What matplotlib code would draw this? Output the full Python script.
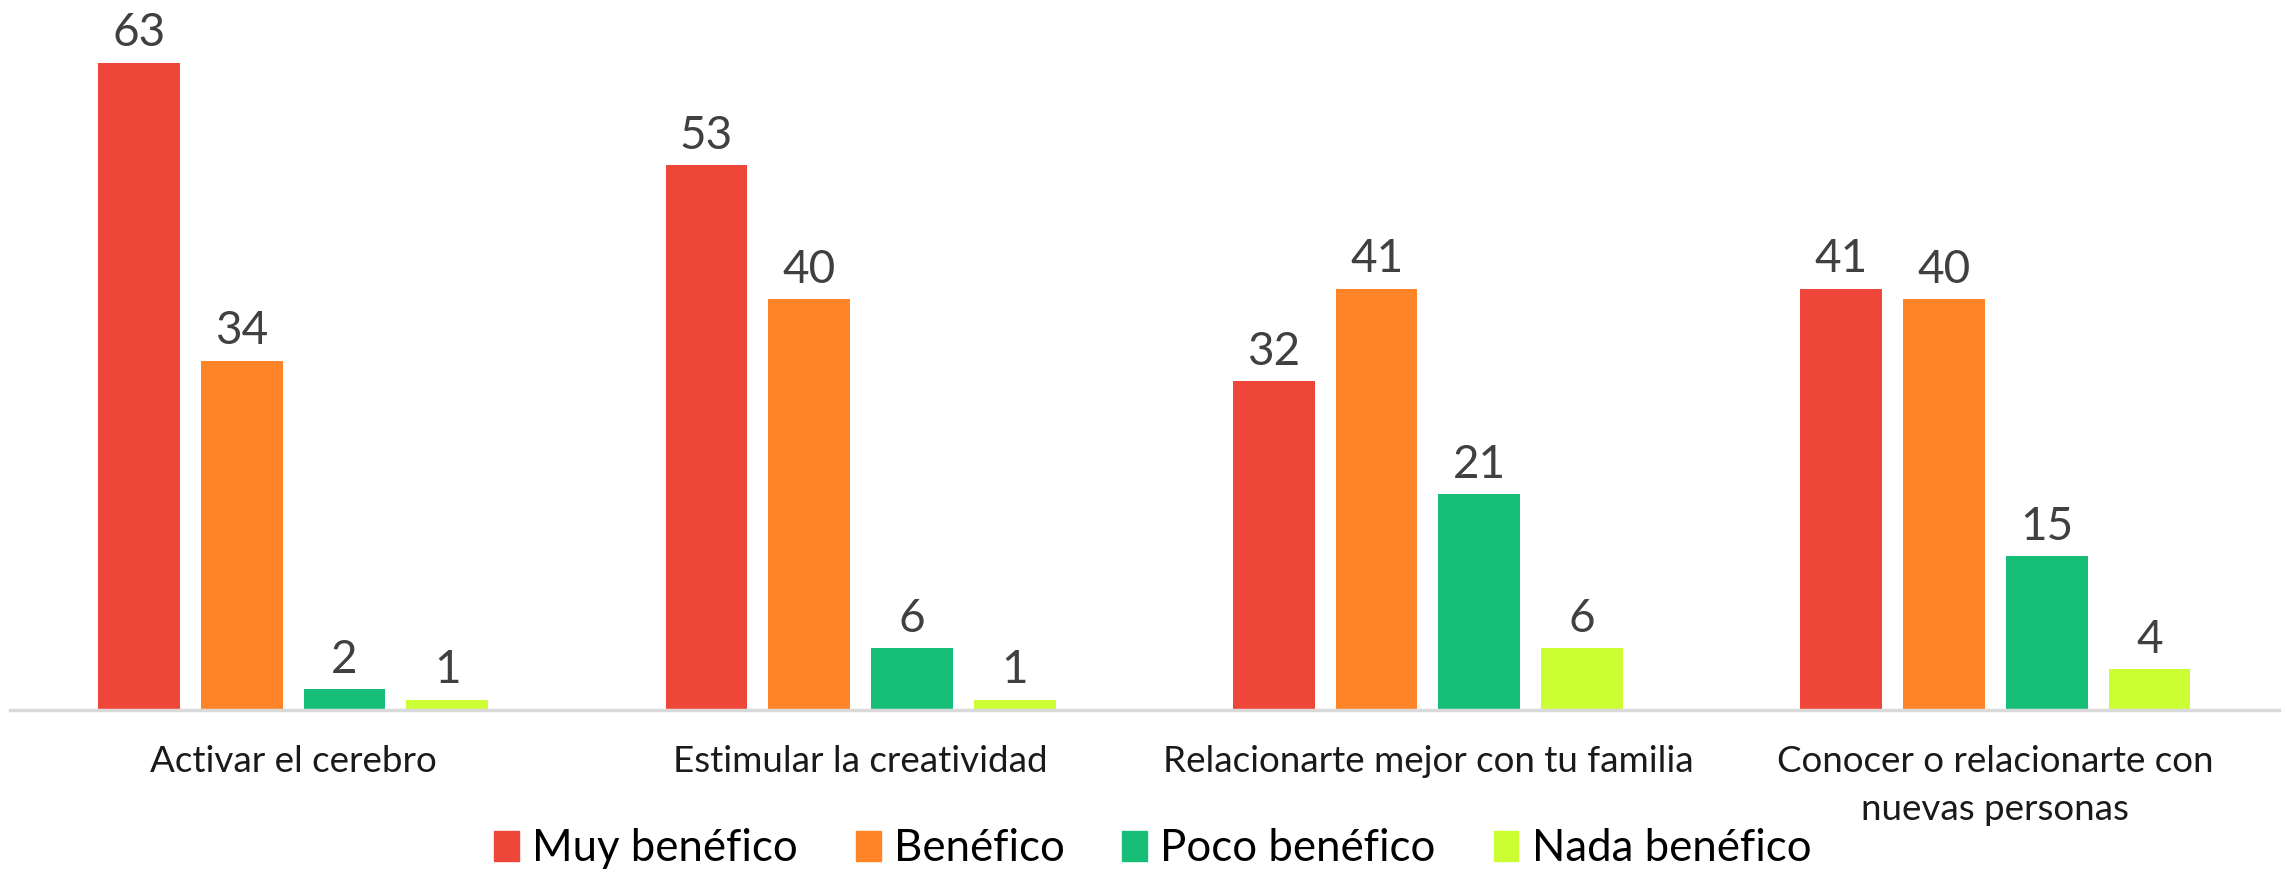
import numpy as np
import matplotlib.pyplot as plt
from matplotlib.patches import Patch

plt.rcParams['font.family'] = ['Lato', 'DejaVu Sans']

# ---- data ------------------------------
categories = ["Activar el cerebro", "Estimular la creatividad",
              "Relacionarte mejor con tu familia",
              "Conocer o relacionarte con\nnuevas personas"]
series = ["Muy benéfico", "Benéfico", "Poco benéfico", "Nada benéfico"]
muy = [63, 53, 32, 41]
benefico = [34, 40, 41, 40]
poco = [2, 6, 21, 15]
nada = [1, 1, 6, 4]
colors = ["#EF463A", "#FF8428", "#17BE77", "#CCFF33"]

values = [muy, benefico, poco, nada]

fig = plt.figure(figsize=(22.87, 8.75), dpi=100)
ax = fig.add_axes([0.0042, 0.1886, 0.9923, 0.8114])

x = np.arange(len(categories))
pitch = 0.181
width = 0.144
for i, (vals, col) in enumerate(zip(values, colors)):
    bars = ax.bar(x + (i - 1.5) * pitch, vals, width, color=col, label=series[i])
    ax.bar_label(bars, padding=6, fontsize=33, color="#404040")

ax.set_xlim(-0.5, len(categories) - 0.5)
ax.set_ylim(0, 69.1)
ax.set_yticks([])
ax.set_xticks(x)
ax.set_xticklabels(categories, fontsize=26.5, color="#1a1a1a", linespacing=1.55)
ax.tick_params(axis="x", length=0, pad=25)
for s in ["top", "right", "left"]:
    ax.spines[s].set_visible(False)
ax.spines["bottom"].set_color("#D9D9D9")
ax.spines["bottom"].set_linewidth(2.5)

handles = [Patch(color=c) for c in colors]
fig.legend(handles, series, loc="center", bbox_to_anchor=(0.504, 0.03),
           ncol=4, frameon=False, fontsize=31.5, handlelength=0.57,
           handleheight=0.66, handletextpad=0.3, columnspacing=1.32,
           borderpad=0, borderaxespad=0)

fig.savefig("out.png", dpi=100)
